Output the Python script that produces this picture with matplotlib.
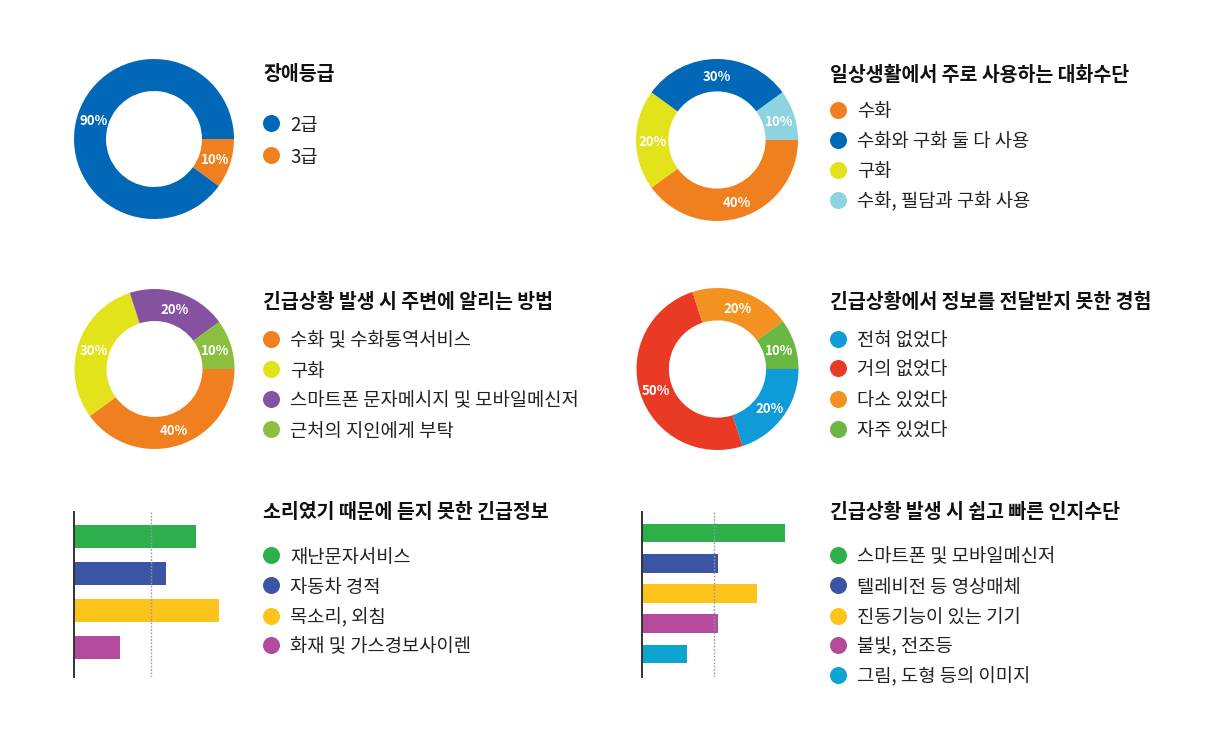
import numpy as np
import matplotlib
matplotlib.use("Agg")
import matplotlib.pyplot as plt

plt.rcParams['font.family'] = ['Noto Sans CJK KR', 'DejaVu Sans']

W, H = 1223, 755

# --- data ---
grade_title = "장애등급"
grade_labels = ["2급", "3급"]
grade_values = [90, 10]
grade_colors = ["#0068b7", "#f0801f"]
grade_order = [1, 0]          # clockwise from 3 o'clock

talk_title = "일상생활에서 주로 사용하는 대화수단"
talk_labels = ["수화", "수화와 구화 둘 다 사용", "구화", "수화, 필담과 구화 사용"]
talk_values = [40, 30, 20, 10]
talk_colors = ["#f0801f", "#0068b7", "#e2e31a", "#8dd3e0"]
talk_order = [0, 2, 1, 3]

notify_title = "긴급상황 발생 시 주변에 알리는 방법"
notify_labels = ["수화 및 수화통역서비스", "구화", "스마트폰 문자메시지 및 모바일메신저", "근처의 지인에게 부탁"]
notify_values = [40, 30, 20, 10]
notify_colors = ["#f0801f", "#e2e31a", "#8552a1", "#8cbf3f"]
notify_order = [0, 1, 2, 3]

missed_title = "긴급상황에서 정보를 전달받지 못한 경험"
missed_labels = ["전혀 없었다", "거의 없었다", "다소 있었다", "자주 있었다"]
missed_values = [20, 50, 20, 10]
missed_colors = ["#0f9bd8", "#e83a24", "#f39221", "#6ab744"]
missed_order = [0, 1, 2, 3]

sound_title = "소리였기 때문에 듣지 못한 긴급정보"
sound_labels = ["재난문자서비스", "자동차 경적", "목소리, 외침", "화재 및 가스경보사이렌"]
sound_values = [79, 60, 94, 30]
sound_colors = ["#2db04b", "#3b54a4", "#fcc31b", "#b44a9c"]

aware_title = "긴급상황 발생 시 쉽고 빠른 인지수단"
aware_labels = ["스마트폰 및 모바일메신저", "텔레비전 등 영상매체", "진동기능이 있는 기기", "불빛, 전조등", "그림, 도형 등의 이미지"]
aware_values = [99, 53, 80, 53, 31]
aware_colors = ["#2db04b", "#3b54a4", "#fcc31b", "#b44a9c", "#0ba5d0"]

ref_line = 50

fig = plt.figure(figsize=(W / 100, H / 100), dpi=100)
fig.patch.set_facecolor("white")

# overlay in pixel coords for titles and legends
ov = fig.add_axes([0, 0, 1, 1])
ov.set_xlim(0, W)
ov.set_ylim(H, 0)
ov.axis("off")


def px_axes(left, top, width, height):
    return fig.add_axes([left / W, 1 - (top + height) / H, width / W, height / H])


def donut(cx, cy, r, values, colors, order):
    ax = px_axes(cx - r, cy - r, 2 * r, 2 * r)
    vals = [values[i] for i in order]
    cols = [colors[i] for i in order]
    ax.pie(vals, colors=cols, startangle=0, counterclock=False,
           radius=1, wedgeprops=dict(width=0.4, linewidth=0))
    total = sum(vals)
    start = 0
    for v in vals:
        mid = np.deg2rad(-(start + v / 2) / total * 360)
        ax.text(0.8 * np.cos(mid), 0.8 * np.sin(mid) - 0.02, f"{v}%", color="white",
                fontsize=9.5, fontweight="bold", ha="center", va="center")
        start += v
    ax.set_xlim(-1, 1)
    ax.set_ylim(-1, 1)
    ax.set_aspect("equal")
    ax.axis("off")


def bars(left, top, width, height, values, colors, ylim):
    ax = px_axes(left, top, width, height)
    y = np.arange(len(values))
    ax.barh(y, values, height=0.62, color=colors, left=0)
    ax.axvline(ref_line, color="#9a9a9a", linestyle=(0, (1.2, 1.2)), linewidth=1)
    ax.set_xlim(0, 100)
    ax.set_ylim(*ylim)
    for s in ["top", "right", "bottom"]:
        ax.spines[s].set_visible(False)
    ax.spines["left"].set_color("#333333")
    ax.spines["left"].set_linewidth(1.4)
    ax.set_xticks([])
    ax.set_yticks([])
    ax.patch.set_alpha(0)


def legend(x, title_y, title, ys, labels, colors):
    ov.text(x, title_y + 2, title, fontsize=14, fontweight="bold", va="center", ha="left", color="#111111")
    for yy, lab, col in zip(ys, labels, colors):
        ov.scatter([x + 8], [yy], s=150, color=col, linewidths=0)
        ov.text(x + 27, yy + 2, lab, fontsize=13.5, va="center", ha="left", color="#222222")


donut(154, 139, 80, grade_values, grade_colors, grade_order)
donut(717, 140, 81, talk_values, talk_colors, talk_order)
donut(154.5, 369, 80, notify_values, notify_colors, notify_order)
donut(717.5, 369, 81, missed_values, missed_colors, missed_order)

bars(74, 512, 154, 165, sound_values, sound_colors, (3.81, -0.65))
bars(642, 512, 144, 165, aware_values, aware_colors, (4.76, -0.69))

legend(263, 73, grade_title, [123, 155], grade_labels, grade_colors)
legend(830, 73, talk_title, [110, 140, 170, 200], talk_labels, talk_colors)
legend(263, 300, notify_title, [339, 369, 399, 429], notify_labels, notify_colors)
legend(830, 300, missed_title, [339, 368, 399, 429], missed_labels, missed_colors)
legend(263, 510, sound_title, [555, 585, 616, 645], sound_labels, sound_colors)
legend(830, 510, aware_title, [555, 585, 616, 645, 675], aware_labels, aware_colors)

fig.savefig("out.png", dpi=100)
